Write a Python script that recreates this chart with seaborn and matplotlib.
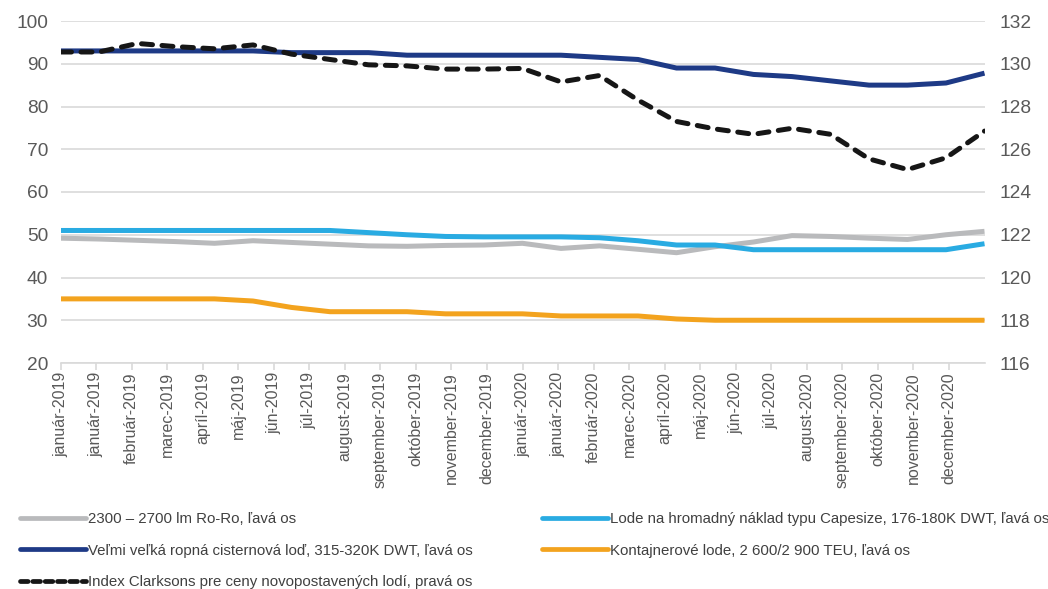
import numpy as np
import pandas as pd
import matplotlib
matplotlib.use("Agg")
import matplotlib.pyplot as plt
from matplotlib.lines import Line2D
import seaborn as sns

# Monthly observations, January 2019 to January 2021 (25 points)
months = list(range(25))

ro_ro = [49.2, 49.0, 48.7, 48.4, 48.0, 48.6, 48.2, 47.8, 47.4, 47.3, 47.5, 47.6, 48.0,
         46.8, 47.4, 46.6, 45.8, 47.2, 48.3, 49.8, 49.6, 49.2, 48.9, 50.0, 50.8]
capesize = [51.0, 51.0, 51.0, 51.0, 51.0, 51.0, 51.0, 51.0, 50.5, 50.0, 49.6, 49.5, 49.5,
            49.5, 49.3, 48.6, 47.6, 47.6, 46.5, 46.5, 46.5, 46.5, 46.5, 46.5, 47.9]
vlcc = [93.0, 93.0, 93.0, 93.0, 93.0, 93.0, 92.6, 92.6, 92.6, 92.0, 92.0, 92.0, 92.0,
        92.0, 91.5, 91.0, 89.0, 89.0, 87.5, 87.0, 86.0, 85.0, 85.0, 85.5, 87.8]
container = [35.0, 35.0, 35.0, 35.0, 35.0, 34.5, 33.0, 32.0, 32.0, 32.0, 31.5, 31.5, 31.5,
             31.0, 31.0, 31.0, 30.3, 30.0, 30.0, 30.0, 30.0, 30.0, 30.0, 30.0, 30.0]
clarksons = [130.55, 130.55, 130.95, 130.8, 130.7, 130.88, 130.45, 130.2, 129.95, 129.9,
             129.75, 129.75, 129.78, 129.15, 129.45, 128.3, 127.3, 126.95, 126.7, 126.98,
             126.7, 125.55, 125.05, 125.6, 126.85]

tick_labels = ["január-2019", "január-2019", "február-2019", "marec-2019", "apríl-2019",
               "máj-2019", "jún-2019", "júl-2019", "august-2019", "september-2019",
               "október-2019", "november-2019", "december-2019", "január-2020",
               "január-2020", "február-2020", "marec-2020", "apríl-2020", "máj-2020",
               "jún-2020", "júl-2020", "august-2020", "september-2020", "október-2020",
               "november-2020", "december-2020"]

names = {
    "roro": "2300 – 2700 lm Ro-Ro, ľavá os",
    "cape": "Lode na hromadný náklad typu Capesize, 176-180K DWT, ľavá os",
    "vlcc": "Veľmi veľká ropná cisternová loď, 315-320K DWT, ľavá os",
    "cont": "Kontajnerové lode, 2 600/2 900 TEU, ľavá os",
    "clark": "Index Clarksons pre ceny novopostavených lodí, pravá os",
}
colors = {"roro": "#b9babc", "cape": "#29abe2", "vlcc": "#1e3a86",
          "cont": "#f3a31e", "clark": "#161616"}

sns.set_theme(style="white")
plt.rcParams["font.family"] = ["Liberation Sans", "DejaVu Sans"]

left_df = pd.DataFrame({
    "month": months * 4,
    "value": ro_ro + capesize + vlcc + container,
    "series": (["roro"] * 25 + ["cape"] * 25 + ["vlcc"] * 25 + ["cont"] * 25),
})
right_df = pd.DataFrame({"month": months, "value": clarksons})

fig = plt.figure(figsize=(10.48, 5.89), dpi=100)
ax = fig.add_axes([60.5 / 1048, 1 - 363 / 589, (984.5 - 60.5) / 1048, (363 - 21) / 589])
ax2 = ax.twinx()

lw = 3.6
sns.lineplot(data=left_df, x="month", y="value", hue="series",
             hue_order=["roro", "cape", "vlcc", "cont"], palette=colors,
             linewidth=lw, ax=ax, legend=False, zorder=3)
sns.lineplot(data=right_df, x="month", y="value", color=colors["clark"],
             linewidth=lw, ax=ax2, legend=False, zorder=4)
for line in ax.lines:
    line.set_solid_capstyle("butt")
    line.set_solid_joinstyle("round")
dash_line = ax2.lines[0]
dash_line.set_dashes([2.2, 1.9])
dash_line.set_dash_capstyle("round")

ax.set_xlim(0, 24)
ax.set_ylim(20, 100)
ax.set_yticks(np.arange(20, 101, 10))
ax2.set_ylim(116, 132)
ax2.set_yticks(np.arange(116, 133, 2))

ax.grid(axis="y", color="#d9d9d9", linewidth=1.2, zorder=0)
ax.grid(axis="x", visible=False)
ax2.grid(False)

tick_pos = np.arange(len(tick_labels)) * 12 / 13
ax.set_xticks(tick_pos)
ax.set_xticklabels(tick_labels, rotation=90, fontsize=11.5, color="#595959")
ax.tick_params(axis="x", direction="out", length=5, width=1.2, color="#d9d9d9", pad=1.5,
               bottom=True)
ax.tick_params(axis="y", length=0, labelsize=13.8, labelcolor="#595959", pad=9)
ax2.tick_params(axis="y", length=0, labelsize=13.8, labelcolor="#595959", pad=11)

for a in (ax, ax2):
    for side in ("top", "left", "right", "bottom"):
        a.spines[side].set_visible(False)
ax.spines["bottom"].set_visible(True)
ax.spines["bottom"].set_color("#d9d9d9")
ax.spines["bottom"].set_linewidth(1.2)
ax.set_xlabel("")
ax.set_ylabel("")
ax2.set_ylabel("")


def handle(key, dashed=False):
    h = Line2D([], [], color=colors[key], linewidth=lw * 0.95, solid_capstyle="round")
    if dashed:
        h.set_dashes([1.6, 1.0])
        h.set_dash_capstyle("round")
    return h


legend_font = {"family": "Liberation Sans", "size": 10.8}
col1 = [("roro", False), ("vlcc", False), ("clark", True)]
col2 = [("cape", False), ("cont", False)]
legend_kw = dict(loc="upper left", frameon=False, prop=legend_font, handlelength=4.4,
                 handletextpad=0.15, labelspacing=1.17, borderaxespad=0, borderpad=0)
leg1 = fig.legend([handle(k, d) for k, d in col1], [names[k] for k, _ in col1],
                  bbox_to_anchor=(20 / 1048, 1 - 512 / 589), **legend_kw)
leg2 = fig.legend([handle(k, d) for k, d in col2], [names[k] for k, _ in col2],
                  bbox_to_anchor=(542 / 1048, 1 - 512 / 589), **legend_kw)
for leg in (leg1, leg2):
    for t in leg.get_texts():
        t.set_color("#404040")

fig.savefig("out.png", dpi=100)
